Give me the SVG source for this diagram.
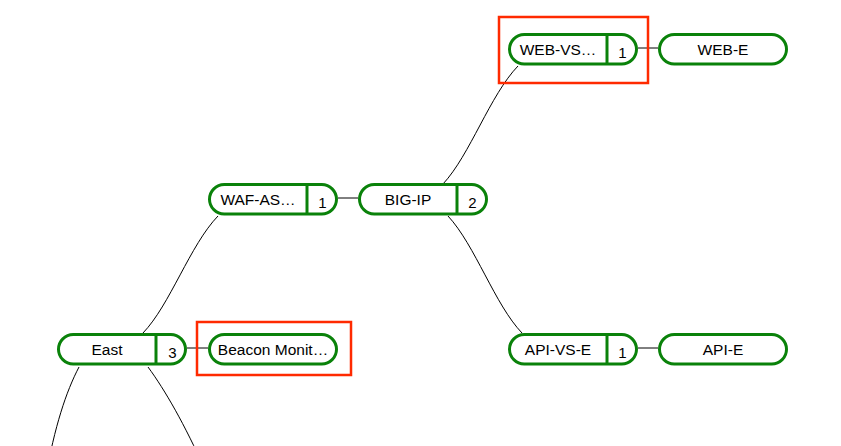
<svg xmlns="http://www.w3.org/2000/svg" width="841" height="446" viewBox="0 0 841 446">
<style>
.node{fill:#fff;stroke:#0a820a;stroke-width:3}
.div{stroke:#0a820a;stroke-width:3}
.lbl{font-family:"Liberation Sans",Arial,sans-serif;font-size:15.5px;fill:#000;text-anchor:middle}
.cnt{font-family:"Liberation Sans",Arial,sans-serif;font-size:15px;fill:#000;text-anchor:middle}
.conn{fill:none;stroke:#000;stroke-width:1}
.hl{fill:none;stroke:#ff2a00;stroke-width:2.5}
</style>
<rect width="841" height="446" fill="#fff"/>
<g id="connectors">
<path class="conn" d="M443,184 C470,155 490,95 518,66"/>
<path class="conn" d="M448,216 C475,245 495,305 522,333"/>
<path class="conn" d="M218,216 C190,245 170,305 143,333"/>
<path class="conn" d="M79,367 C66,392 55,425 45,480"/>
<path class="conn" d="M148,367 C165,390 185,425 205,470"/>
<path class="conn" d="M638,48 H658"/>
<path class="conn" d="M338,198 H358"/>
<path class="conn" d="M187,348 H208"/>
<path class="conn" d="M638,348 H658"/>
</g>
<g id="node-web-vs">
<rect class="node" x="509.5" y="34.5" width="127" height="29.5" rx="14.75"/>
<line class="div" x1="607" y1="34.5" x2="607" y2="64"/>
<text class="lbl" x="558" y="55">WEB-VS…</text>
<text class="cnt" x="622.5" y="58">1</text>
</g>
<g id="node-web-e">
<rect class="node" x="659.5" y="34.5" width="127" height="29.5" rx="14.75"/>
<text class="lbl" x="723" y="55">WEB-E</text>
</g>
<g id="node-waf">
<rect class="node" x="209.5" y="184.5" width="127" height="29.5" rx="14.75"/>
<line class="div" x1="307" y1="184.5" x2="307" y2="214"/>
<text class="lbl" x="258" y="205">WAF-AS…</text>
<text class="cnt" x="322.5" y="208">1</text>
</g>
<g id="node-big-ip">
<rect class="node" x="359.5" y="184.5" width="127" height="29.5" rx="14.75"/>
<line class="div" x1="457" y1="184.5" x2="457" y2="214"/>
<text class="lbl" x="408" y="205">BIG-IP</text>
<text class="cnt" x="472.5" y="208">2</text>
</g>
<g id="node-east">
<rect class="node" x="58.5" y="334.5" width="127" height="29.5" rx="14.75"/>
<line class="div" x1="156" y1="334.5" x2="156" y2="364"/>
<text class="lbl" x="107" y="355">East</text>
<text class="cnt" x="172.5" y="358">3</text>
</g>
<g id="node-beacon">
<rect class="node" x="209.5" y="334.5" width="127" height="29.5" rx="14.75"/>
<text class="lbl" x="273" y="355">Beacon Monit…</text>
</g>
<g id="node-api-vs-e">
<rect class="node" x="509.5" y="334.5" width="127" height="29.5" rx="14.75"/>
<line class="div" x1="607" y1="334.5" x2="607" y2="364"/>
<text class="lbl" x="558" y="355">API-VS-E</text>
<text class="cnt" x="622.5" y="358">1</text>
</g>
<g id="node-api-e">
<rect class="node" x="659.5" y="334.5" width="127" height="29.5" rx="14.75"/>
<text class="lbl" x="723" y="355">API-E</text>
</g>
<g id="highlights">
<rect class="hl" x="499" y="17" width="149" height="66"/>
<rect class="hl" x="197" y="322" width="154" height="53"/>
</g>
</svg>
